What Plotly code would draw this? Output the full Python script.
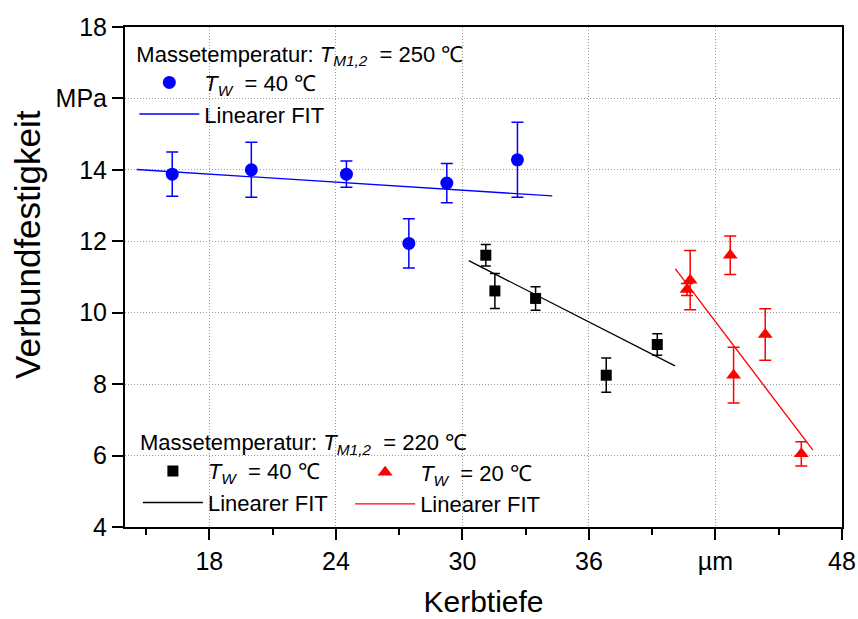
import plotly.graph_objects as go

# ---- axis ticks ----
x_tickvals = [18, 24, 30, 36, 42, 48]
x_ticktext = ["18", "24", "30", "36", "µm", "48"]
x_minor = [15, 21, 27, 33, 39, 45]
y_tickvals = [4, 6, 8, 10, 12, 14, 16, 18]
y_ticktext = ["4", "6", "8", "10", "12", "14", "MPa", "18"]

# ---- series: T_M = 250 C, T_W = 40 C (blue) ----
blue_x = [16.24, 19.99, 24.50, 27.46, 29.26, 32.61]
blue_y = [13.88, 14.00, 13.88, 11.94, 13.63, 14.28]
blue_err = [0.62, 0.77, 0.37, 0.69, 0.55, 1.05]
blue_fit_x = [14.55, 34.26]
blue_fit_y = [14.01, 13.27]

# ---- series: T_M = 220 C, T_W = 40 C (black) ----
black_x = [31.11, 31.54, 33.47, 36.82, 39.24]
black_y = [11.61, 10.61, 10.40, 8.25, 9.11]
black_err = [0.30, 0.49, 0.33, 0.48, 0.30]
black_fit_x = [30.30, 40.08]
black_fit_y = [11.46, 8.51]

# ---- series: T_M = 220 C, T_W = 20 C (red) ----
red_x = [40.65, 40.80, 42.70, 42.86, 44.36, 46.07]
red_y = [10.65, 10.91, 11.61, 8.25, 9.39, 6.05]
red_err = [0.17, 0.83, 0.54, 0.78, 0.72, 0.34]
red_fit_x = [40.10, 46.62]
red_fit_y = [11.23, 6.15]

FONT = "Liberation Sans, Arial, sans-serif"
NB = "\u00a0"
tw40 = f"<i>T</i><sub><i>W</i></sub>{NB}{NB}= 40{NB}℃"
tw20 = f"<i>T</i><sub><i>W</i></sub>{NB}{NB}= 20{NB}℃"

fig = go.Figure()

# fit lines
fig.add_trace(go.Scatter(x=blue_fit_x, y=blue_fit_y, mode="lines",
                         line=dict(color="#0000ff", width=1.3),
                         name="Linearer FIT", legend="legend", legendrank=2))
fig.add_trace(go.Scatter(x=black_fit_x, y=black_fit_y, mode="lines",
                         line=dict(color="#000000", width=1.3),
                         name="Linearer FIT", legend="legend2", legendrank=2))
fig.add_trace(go.Scatter(x=red_fit_x, y=red_fit_y, mode="lines",
                         line=dict(color="#ff0000", width=1.3),
                         name="Linearer FIT", legend="legend3", legendrank=2))

# data points
fig.add_trace(go.Scatter(x=blue_x, y=blue_y, mode="markers",
                         marker=dict(symbol="circle", size=13, color="#0000ff"),
                         error_y=dict(type="data", array=blue_err, color="#0000ff",
                                      thickness=1.5, width=6),
                         name=tw40, legend="legend", legendrank=1))
fig.add_trace(go.Scatter(x=black_x, y=black_y, mode="markers",
                         marker=dict(symbol="square", size=11, color="#000000"),
                         error_y=dict(type="data", array=black_err, color="#000000",
                                      thickness=1.5, width=5),
                         name=tw40, legend="legend2", legendrank=1))
fig.add_trace(go.Scatter(x=red_x, y=red_y, mode="markers",
                         marker=dict(symbol="triangle-up", size=13, color="#ff0000"),
                         error_y=dict(type="data", array=red_err, color="#ff0000",
                                      thickness=1.5, width=6),
                         name=tw20, legend="legend3", legendrank=1))

legend_font = dict(family=FONT, size=22, color="black")
title1 = f"Massetemperatur: <i>T</i><sub><i>M1,2</i></sub>{NB}{NB}= 250{NB}℃"
title2 = f"Massetemperatur: <i>T</i><sub><i>M1,2</i></sub>{NB}{NB}= 220{NB}℃"

grid_style = dict(showgrid=True, gridcolor="#9a9a9a", griddash="1px,2px", gridwidth=1)
axis_common = dict(ticks="outside", ticklen=11, tickwidth=2, tickcolor="black",
                   showline=True, linewidth=2, linecolor="black", mirror=True,
                   zeroline=False, automargin=False,
                   tickfont=dict(family=FONT, size=25, color="black"), **grid_style)

fig.update_layout(
    width=858, height=619,
    margin=dict(l=125, r=16, t=27, b=92),
    paper_bgcolor="white", plot_bgcolor="white",
    font=dict(family=FONT, color="black"),
    showlegend=True,
    legend=dict(x=0.013, y=0.988, xanchor="left", yanchor="top",
                bgcolor="rgba(0,0,0,0)", font=legend_font, itemwidth=60,
                title=dict(text=title1, font=legend_font), tracegroupgap=0),
    legend2=dict(x=0.018, y=0.211, xanchor="left", yanchor="top",
                 bgcolor="rgba(0,0,0,0)", font=legend_font, itemwidth=60,
                 title=dict(text=title2, font=legend_font), tracegroupgap=0),
    legend3=dict(x=0.314, y=0.151, xanchor="left", yanchor="top",
                 bgcolor="rgba(0,0,0,0)", font=legend_font, itemwidth=60,
                 tracegroupgap=0),
    xaxis=dict(range=[14, 48], tickmode="array", tickvals=x_tickvals, ticktext=x_ticktext,
               minor=dict(tickvals=x_minor, ticks="outside", ticklen=6, tickwidth=2,
                          tickcolor="black", showgrid=False),
               title=dict(text="Kerbtiefe", font=dict(family=FONT, size=30, color="black"),
                          standoff=17),
               **axis_common),
    yaxis=dict(range=[4, 18], tickmode="array", tickvals=y_tickvals, ticktext=y_ticktext,
               **axis_common),
    annotations=[dict(text="Verbundfestigkeit", textangle=-90, showarrow=False,
                      xref="paper", yref="paper", x=0, y=0.564,
                      xanchor="center", yanchor="middle", xshift=-98,
                      font=dict(family=FONT, size=35, color="black"))],
)

fig.write_html("out.html")
